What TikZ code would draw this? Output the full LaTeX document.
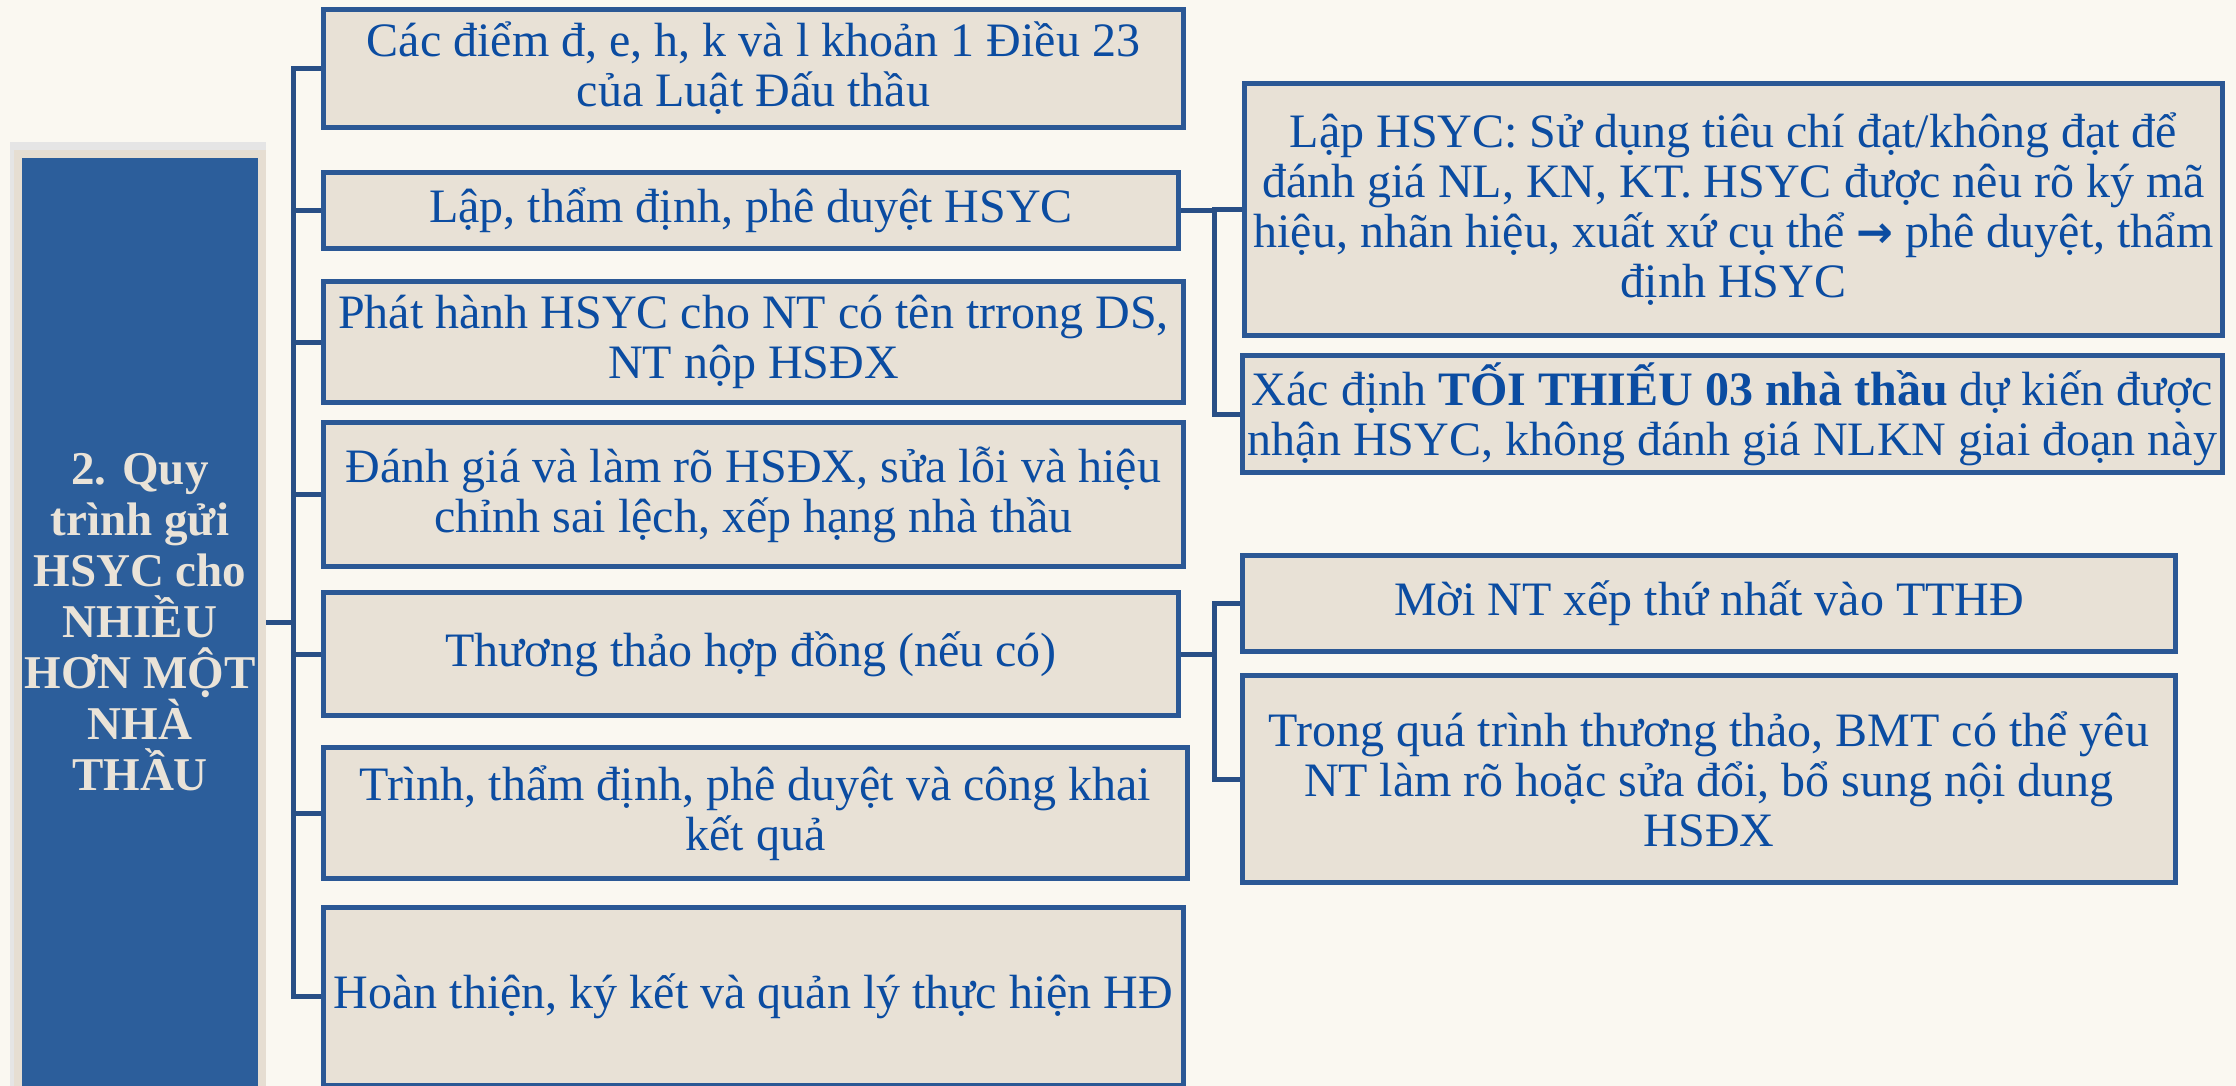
\documentclass[tikz,border=0pt]{standalone}
\usepackage{fontspec}
\setmainfont{Liberation Serif}
\newfontfamily\arrowfont{DejaVu Sans}
\definecolor{pagebg}{HTML}{FAF8F1}
\definecolor{boxfill}{HTML}{E8E1D6}
\definecolor{boxline}{HTML}{2B5895}
\definecolor{linkline}{HTML}{284F86}
\definecolor{txtblue}{HTML}{0B4CA1}
\definecolor{rootfill}{HTML}{2C5E9B}
\definecolor{rootframe}{HTML}{E6DED2}
\definecolor{roottext}{HTML}{EAE3D8}
\begin{document}
\begin{tikzpicture}[x=1pt,y=-1pt,
  stepbox/.style={draw=boxline, line width=5pt, fill=boxfill, text=txtblue,
    align=center, inner sep=0pt, anchor=north west,
    font=\fontsize{48}{50}\selectfont},
  link/.style={draw=linkline, line width=5pt},
  rootbox/.style={fill=rootfill, draw=rootframe, line width=8pt,
    text=roottext, align=center, inner sep=0pt, anchor=north west,
    font=\fontsize{47}{51}\selectfont\bfseries}]
% page
\fill[pagebg] (0,0) rectangle (2236,1086);
\useasboundingbox (0,0) rectangle (2236,1086);

% root column (runs off the lower edge)
\fill[black!10] (10,142) rectangle (266,1100);
\node[rootbox, minimum width=244pt, minimum height=936pt] (root) at (14,150)
  {2. Quy\\trình gửi\\HSYC cho\\NHIỀU\\HƠN MỘT\\NHÀ\\THẦU};

% main steps
\node[stepbox, minimum width=860pt, minimum height=118pt] (b1) at (321,7)
  {Các điểm đ, e, h, k và l khoản 1 Điều 23\\của Luật Đấu thầu};
\node[stepbox, minimum width=855pt, minimum height=76pt] (b2) at (321,170)
  {Lập, thẩm định, phê duyệt HSYC};
\node[stepbox, minimum width=860pt, minimum height=121pt] (b3) at (321,279)
  {Phát hành HSYC cho NT có tên trrong DS,\\NT nộp HSĐX};
\node[stepbox, minimum width=860pt, minimum height=144pt] (b4) at (321,420)
  {Đánh giá và làm rõ HSĐX, sửa lỗi và hiệu\\chỉnh sai lệch, xếp hạng nhà thầu};
\node[stepbox, minimum width=855pt, minimum height=123pt] (b5) at (321,590)
  {Thương thảo hợp đồng (nếu có)};
\node[stepbox, minimum width=864pt, minimum height=131pt] (b6) at (321,745)
  {Trình, thẩm định, phê duyệt và công khai\\kết quả};
\node[stepbox, minimum width=860pt, minimum height=178pt] (b7) at (321,905)
  {Hoàn thiện, ký kết và quản lý thực hiện HĐ};

% detail boxes
\node[stepbox, minimum width=978pt, minimum height=252pt] (r1) at (1242,81)
  {Lập HSYC: Sử dụng tiêu chí đạt/không đạt để\\
   đánh giá NL, KN, KT. HSYC được nêu rõ ký mã\\
   hiệu, nhãn hiệu, xuất xứ cụ thể {\arrowfont\bfseries\fontsize{44}{50}\selectfont →} phê duyệt, thẩm\\
   định HSYC};
\node[stepbox, minimum width=980pt, minimum height=117pt] (r2) at (1240,353)
  {Xác định \textbf{TỐI THIẾU 03 nhà thầu} dự kiến được\\
   nhận HSYC, không đánh giá NLKN giai đoạn này};
\node[stepbox, minimum width=933pt, minimum height=96pt] (r3) at (1240,553)
  {Mời NT xếp thứ nhất vào TTHĐ};
\node[stepbox, minimum width=933pt, minimum height=207pt] (r4) at (1240,673)
  {Trong quá trình thương thảo, BMT có thể yêu\\
   NT làm rõ hoặc sửa đổi, bổ sung nội dung\\
   HSĐX};

% trunk from the root to every step
\coordinate (trunk) at ([xshift=27pt]root.east);
\draw[link] (root.east) -- (trunk);
\foreach \b in {b1,b2,b3,b4,b5,b6,b7}
  \draw[link] (trunk) |- (\b.west);

% branch of step 2
\coordinate (fork1) at ([xshift=33pt]b2.east);
\draw[link] (b2.east) -- (fork1);
\draw[link] (fork1) |- (r1.west);
\draw[link] (fork1) |- (r2.west);

% branch of step 5
\coordinate (fork2) at ([xshift=33pt]b5.east);
\draw[link] (b5.east) -- (fork2);
\draw[link] (fork2) |- (r3.west);
\draw[link] (fork2) |- (r4.west);
\end{tikzpicture}
\end{document}
